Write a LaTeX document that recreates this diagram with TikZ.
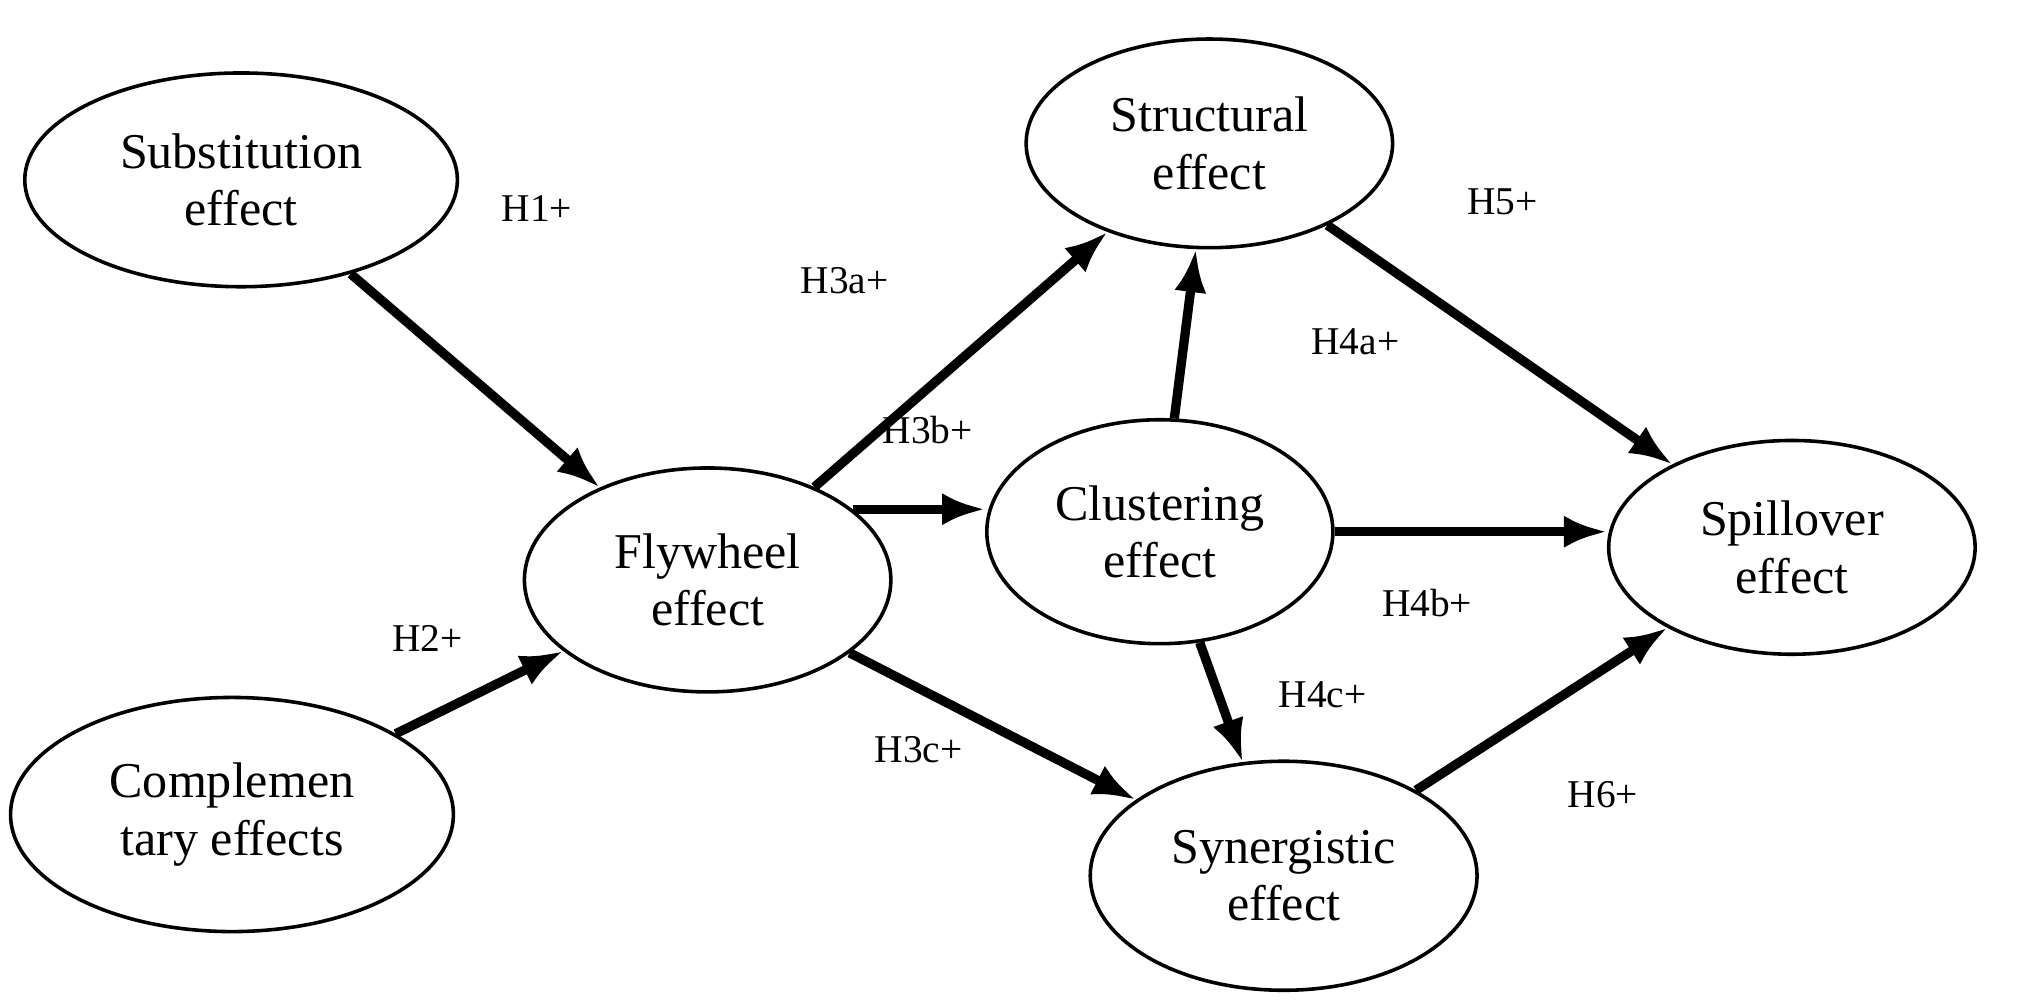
\documentclass[tikz,border=0pt]{standalone}
\usepackage{fontspec}
\setmainfont{Liberation Serif}
\usetikzlibrary{shapes.geometric,arrows.meta}
\begin{document}
\begin{tikzpicture}[x=0.0128cm,y=-0.0128cm,
  effect/.style={ellipse,draw,line width=1pt,inner sep=0pt,align=center,font=\fontsize{14}{16}\selectfont},
  link/.style={line width=2.6pt,-{Latex[length=12pt,width=9pt]}},
  hyp/.style={font=\fontsize{11}{13}\selectfont}]
	\useasboundingbox (0,0) rectangle (1560,773);
	% Effects
	\node (subst) [effect,minimum width=4.25cm,minimum height=2.1cm] at (185,138) {Substitution\\effect};
	\node (compl) [effect,minimum width=4.35cm,minimum height=2.3cm] at (178,625) {Complemen\\tary effects};
	\node (fly) [effect,minimum width=3.6cm,minimum height=2.2cm] at (543,445) {Flywheel\\effect};
	\node (struct) [effect,minimum width=3.6cm,minimum height=2.05cm] at (928,110) {Structural\\effect};
	\node (clust) [effect,minimum width=3.4cm,minimum height=2.2cm] at (890,408) {Clustering\\effect};
	\node (syn) [effect,minimum width=3.8cm,minimum height=2.25cm] at (985,672) {Synergistic\\effect};
	\node (spill) [effect,minimum width=3.6cm,minimum height=2.1cm] at (1375,420) {Spillover\\effect};
	
	% Hypotheses
	\draw [link] (subst) -- (fly);
	\draw [link] (compl) -- (fly);
	\draw [link] (fly) -- (struct);
	\draw [link] (fly.26) -- (clust.west |- fly.26);
	\draw [link] (fly) -- (syn);
	\draw [link] (clust) -- (struct);
	\draw [link] (clust.east) -- (spill.west |- clust.east);
	\draw [link] (clust) -- (syn);
	\draw [link] (struct) -- (spill);
	\draw [link] (syn) -- (spill);
	
	% Labels
	\node (h1) [hyp] at (412,160) {H1+};
	\node (h2) [hyp] at (328,490) {H2+};
	\node (h3a) [hyp] at (648,215) {H3a+};
	\node (h3b) [hyp] at (712,330) {H3b+};
	\node (h3c) [hyp] at (705,575) {H3c+};
	\node (h4a) [hyp] at (1040,262) {H4a+};
	\node (h4b) [hyp] at (1095,463) {H4b+};
	\node (h4c) [hyp] at (1015,533) {H4c+};
	\node (h5) [hyp] at (1153,155) {H5+};
	\node (h6) [hyp] at (1230,610) {H6+};
\end{tikzpicture}
\end{document}
